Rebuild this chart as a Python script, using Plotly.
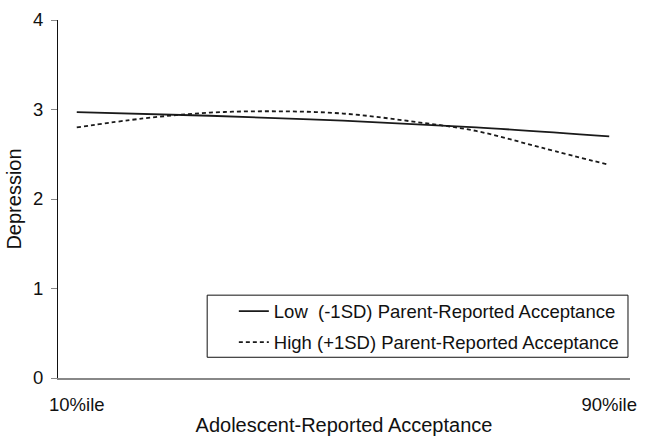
import plotly.graph_objects as go

# Adolescent-reported acceptance (percentile positions along the x axis)
acc_low = [10, 30, 50, 70, 90]
dep_low = [2.97, 2.93, 2.875, 2.80, 2.70]

acc_high = [10, 20, 30, 40, 50, 60, 70, 80, 90]
dep_high = [2.80, 2.90, 2.965, 2.98, 2.955, 2.87, 2.76, 2.57, 2.38]

x_tick_vals = [10, 90]
x_tick_text = ["10%ile", "90%ile"]
y_tick_vals = [0, 1, 2, 3, 4]

FONT = "Liberation Sans, Arial, sans-serif"

fig = go.Figure()
fig.add_trace(go.Scatter(
    x=acc_low, y=dep_low, mode="lines", line_shape="spline",
    name="Low  (-1SD) Parent-Reported Acceptance", legendgroup="low",
    line=dict(color="#1a1a1a", width=1.8),
))
fig.add_trace(go.Scatter(
    x=acc_high, y=dep_high, mode="lines", line_shape="spline",
    name="High (+1SD) Parent-Reported Acceptance", legendgroup="high",
    line=dict(color="#1a1a1a", width=1.8, dash="4px,3px"),
))

# framed legend area
fig.add_shape(
    type="rect", xref="paper", yref="paper",
    x0=0.2608, x1=0.9965, y0=0.0579, y1=0.2314,
    line=dict(color="#111", width=1), fillcolor="white", layer="above",
)

fig.update_layout(
    width=646, height=442,
    margin=dict(l=58, r=9, t=16, b=63),
    paper_bgcolor="white", plot_bgcolor="white",
    font=dict(family=FONT, size=18.5, color="#111"),
    showlegend=True,
    legend=dict(
        x=0.3074, y=0.2385, xanchor="left", yanchor="top",
        bgcolor="rgba(0,0,0,0)", borderwidth=0,
        font=dict(size=18.5), tracegroupgap=4,
    ),
    xaxis=dict(
        range=[7.18, 93.12],
        tickvals=x_tick_vals, ticktext=x_tick_text,
        tickfont=dict(size=18.5),
        showgrid=False, zeroline=False,
        showline=True, linecolor="#888", linewidth=1.5,
        ticks="outside", ticklen=9, tickcolor="rgba(0,0,0,0)",
        title=dict(text="Adolescent-Reported Acceptance", standoff=4,
                   font=dict(size=20)),
    ),
    yaxis=dict(
        range=[0, 4],
        tickvals=y_tick_vals,
        tickfont=dict(size=18.5),
        showgrid=False, zeroline=False,
        showline=True, linecolor="#111", linewidth=1,
        ticks="outside", ticklen=6, tickcolor="#888",
        ticklabelstandoff=4,
        title=dict(text="Depression", standoff=6, font=dict(size=20)),
    ),
)

fig.write_html("out.html")
